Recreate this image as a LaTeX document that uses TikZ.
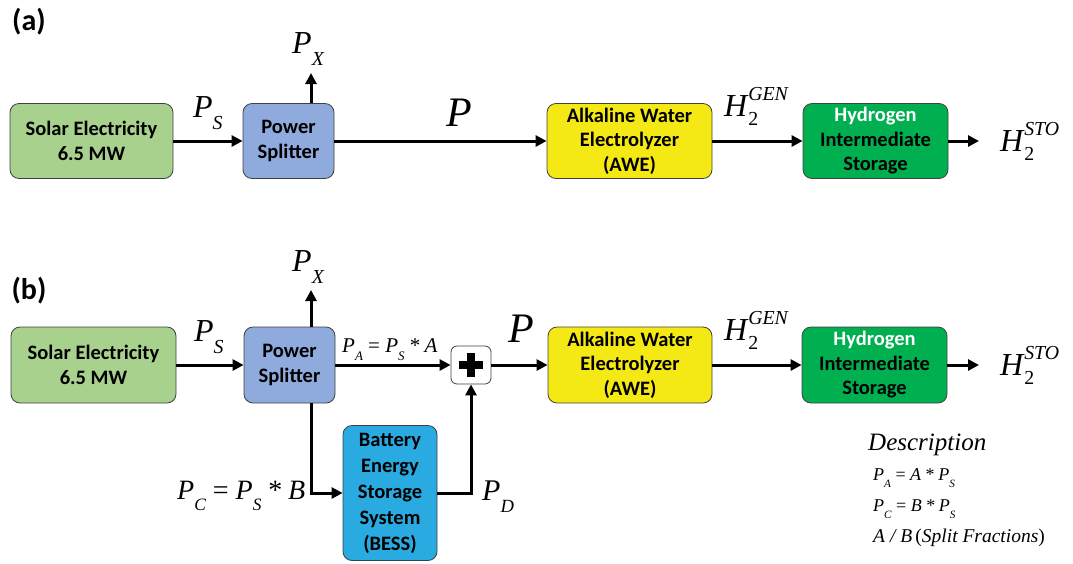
\documentclass[tikz,border=0pt]{standalone}
\usepackage{fontspec}
\usetikzlibrary{arrows.meta}
\setmainfont{Carlito}
\newfontfamily\tms{Liberation Serif}
\newcommand{\dn}[2][0.4em]{\raisebox{-#1}{\scalebox{0.62}{#2}}}
\newcommand{\upsc}[1]{\raisebox{0.47em}{\scalebox{0.62}{#1}}}
\newcommand{\hlab}[1]{H\kern0.03em\rlap{\dn[0.3em]{\upshape 2}}\upsc{#1}}
\newcommand{\eqs}{\kern0.25em{\upshape =}\kern0.25em}
\newcommand{\mstar}{\kern0.25em{\upshape *}\kern0.2em}
\definecolor{solarC}{HTML}{A9D18E}
\definecolor{splitC}{HTML}{8FAADC}
\definecolor{aweC}{HTML}{F5E915}
\definecolor{hydC}{HTML}{00B050}
\definecolor{bessC}{HTML}{29ABE2}
\definecolor{edgeC}{HTML}{404040}
\begin{document}
\begin{tikzpicture}[x=1pt,y=-1pt,
  blk/.style={draw=edgeC, line width=0.8pt, rounded corners=9pt, align=center,
    font=\fontsize{20.5}{24.5}\selectfont\bfseries, inner sep=0pt},
  flow/.style={line width=3pt, -{Triangle[length=11pt,width=11pt]}},
  mlab/.style={font=\fontsize{32}{38}\selectfont\tms\itshape, inner sep=0pt},
  plab/.style={font=\fontsize{30}{36}\selectfont\bfseries, inner sep=0pt},
  desc/.style={font=\fontsize{18}{22}\selectfont\tms\itshape, inner sep=0pt, anchor=west}]
\useasboundingbox (0,0) rectangle (1073,563);

% ---------- panel (a)
\node[plab] (la) at (29,22) {(a)};
\node[blk, fill=solarC, minimum width=163, minimum height=75] (sa) at (91.5,141) {Solar Electricity\\6.5 MW};
\node[blk, fill=splitC, minimum width=91, minimum height=75] (pa) at (288.5,141) {Power\\Splitter};
\node[blk, fill=aweC, minimum width=165, minimum height=75] (ea) at (629.5,141) {Alkaline Water\\Electrolyzer\\(AWE)};
\node[blk, fill=hydC, minimum width=145, minimum height=75] (ha) at (875.5,141) {\textcolor{white}{Hydrogen}\\Intermediate\\Storage};
\coordinate (xa) at (311,73);
\coordinate (oa) at (979,141);
\draw[flow] (sa) -- (pa);
\draw[flow] (pa.north -| xa) -- (xa);
\draw[flow] (pa) -- (ea);
\draw[flow] (ea) -- (ha);
\draw[flow] (ha) -- (oa);
\node[mlab, anchor=base west] (lsa) at (193,117) {P\dn{S}};
\node[mlab, anchor=base west] (lxa) at (292,53) {P\dn{X}};
\node[mlab, font=\fontsize{42}{48}\selectfont\tms\itshape] (lpa) at (459,113) {P};
\node[mlab, anchor=base west] (lga) at (724,116) {\hlab{GEN}};
\node[mlab, anchor=base west] (lta) at (1000,151) {\hlab{STO}};

% ---------- panel (b)
\node[plab] (lb) at (29,291) {(b)};
\node[blk, fill=solarC, minimum width=165, minimum height=76] (sb) at (93.5,365) {Solar Electricity\\6.5 MW};
\node[blk, fill=splitC, minimum width=91, minimum height=76] (pb) at (289.5,365) {Power\\Splitter};
\node[draw=edgeC, line width=0.8pt, fill=white, rounded corners=6pt, minimum width=40, minimum height=38, inner sep=0pt] (pl) at (471,365) {};
\fill (pl.center) ++(-12,-4) rectangle ++(24,8);
\fill (pl.center) ++(-4,-12) rectangle ++(8,24);
\node[blk, fill=aweC, minimum width=164, minimum height=76] (eb) at (630,365) {Alkaline Water\\Electrolyzer\\(AWE)};
\node[blk, fill=hydC, minimum width=145, minimum height=76] (hb) at (874.5,365) {\textcolor{white}{Hydrogen}\\Intermediate\\Storage};
\node[blk, fill=bessC, minimum width=94, minimum height=135, font=\fontsize{20.5}{26}\selectfont\bfseries] (bs) at (390,493) {Battery\\Energy\\Storage\\System\\(BESS)};
\coordinate (xb) at (311,290);
\coordinate (ob) at (979,365);
\coordinate (cb) at (311,493);
\draw[flow] (sb) -- (pb);
\draw[flow] (pb.north -| xb) -- (xb);
\draw[flow] (pb) -- (pl);
\draw[flow] (pl) -- (eb);
\draw[flow] (eb) -- (hb);
\draw[flow] (hb) -- (ob);
\draw[flow] (pb.south -| cb) -- (cb) -- (bs.west);
\draw[flow] (bs.east) -| (pl.south);
\node[mlab, anchor=base west] (lsb) at (194,341) {P\dn{S}};
\node[mlab, anchor=base west] (lxb) at (292,271) {P\dn{X}};
\node[mlab, font=\fontsize{21}{25}\selectfont\tms\itshape, anchor=base west] (lab) at (342,352) {P\dn{A}\eqs P\dn{S}\mstar A};
\node[mlab, font=\fontsize{42}{48}\selectfont\tms\itshape] (lpb) at (521,329) {P};
\node[mlab, anchor=base west] (lgb) at (724,340) {\hlab{GEN}};
\node[mlab, anchor=base west] (ltb) at (1000,375) {\hlab{STO}};
\node[mlab, font=\fontsize{28}{32}\selectfont\tms\itshape, anchor=base west] (lcb) at (177,499) {P\dn{C}\eqs P\dn{S}\mstar B};
\node[mlab, font=\fontsize{30}{34}\selectfont\tms\itshape, anchor=base west] (ldb) at (482,500) {P\dn{D}};

% ---------- description
\node[desc, font=\fontsize{25}{30}\selectfont\tms\itshape] (dh) at (868,445) {Description};
\node[desc, anchor=base west] (d1) at (873,480) {P\dn{A}\eqs A\mstar P\dn{S}};
\node[desc, anchor=base west] (d2) at (873,511) {P\dn{C}\eqs B\mstar P\dn{S}};
\node[desc, font=\fontsize{19.5}{23}\selectfont\tms\itshape, anchor=base west] (d3) at (873,542) {A / B\,{\upshape(}Split Fractions{\upshape)}};
\end{tikzpicture}
\end{document}
